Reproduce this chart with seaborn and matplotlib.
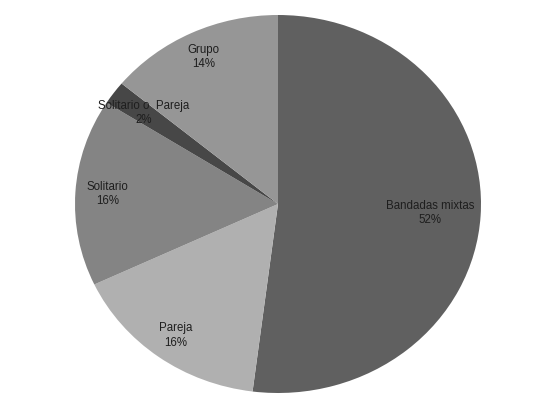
import matplotlib
matplotlib.use("Agg")
import matplotlib.pyplot as plt
import seaborn as sns
import numpy as np

categories = ["Bandadas mixtas", "Pareja", "Solitario", "Solitario o  Pareja", "Grupo"]
shares = [52, 16, 16, 2, 14]
slice_colors = ["#606060", "#b0b0b0", "#848484", "#474747", "#969696"]
label_radius = [0.75, 0.86, 0.84, 0.82, 0.86]

sns.set_style("white")
plt.rcParams["font.family"] = ["Liberation Sans", "DejaVu Sans"]

fig = plt.figure(figsize=(5.36, 4.09), dpi=100)
ax = fig.add_axes([75 / 536, 16 / 409, 406 / 536, 378 / 409])

wedges, _ = ax.pie(
    shares,
    colors=slice_colors,
    startangle=90,
    counterclock=False,
    wedgeprops=dict(linewidth=0),
)
ax.set_aspect("auto")
ax.set_xlim(-1, 1)
ax.set_ylim(-1, 1)
ax.axis("off")

for w, name, val, r in zip(wedges, categories, shares, label_radius):
    mid = np.deg2rad((w.theta1 + w.theta2) / 2)
    ax.text(r * np.cos(mid), r * np.sin(mid), f"{name}\n{val}%",
            ha="center", va="center", fontsize=8.3, color="#1e1e1e",
            linespacing=1.3)

fig.savefig("out.png", dpi=100)
